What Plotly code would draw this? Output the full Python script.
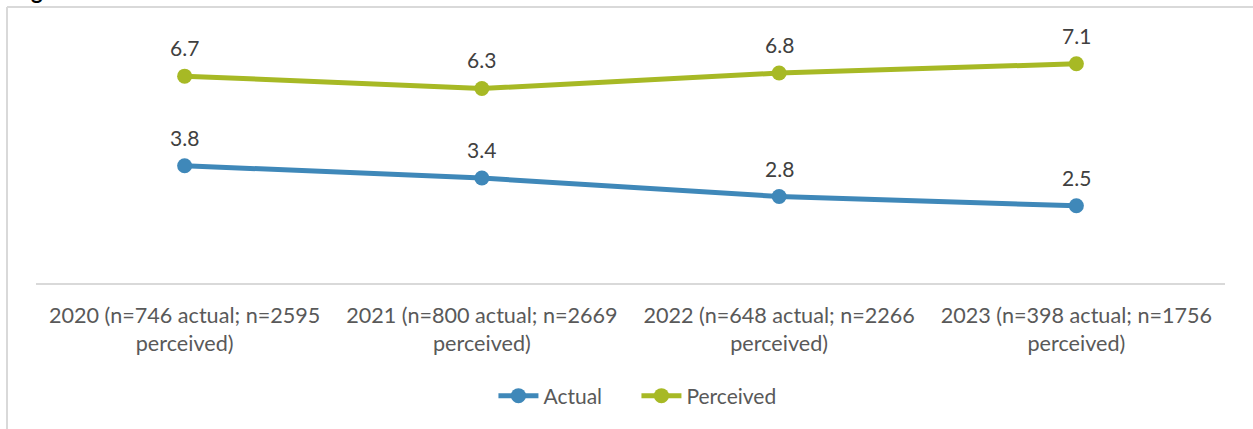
import plotly.graph_objects as go

categories = [
    "2020 (n=746 actual; n=2595<br>perceived)",
    "2021 (n=800 actual; n=2669<br>perceived)",
    "2022 (n=648 actual; n=2266<br>perceived)",
    "2023 (n=398 actual; n=1756<br>perceived)",
]
actual = [3.8, 3.4, 2.8, 2.5]
perceived = [6.7, 6.3, 6.8, 7.1]

BLUE = "#3F88B9"
GREEN = "#A7B925"
FONT = "Lato, Carlito, Calibri, sans-serif"

W, H = 1253, 429
L, R, T, B = 36, 28, 36, 146
pw, ph = W - L - R, H - T - B

def px_x(x):
    return (x - L) / pw

def px_y(y):
    return (H - B - y) / ph

fig = go.Figure()
for name, vals, col in [("Actual", actual, BLUE), ("Perceived", perceived, GREEN)]:
    fig.add_trace(go.Scatter(
        x=categories, y=vals, name=name, mode="lines+markers",
        line=dict(color=col, width=5),
        marker=dict(color=col, size=15),
    ))
    for c, v in zip(categories, vals):
        fig.add_annotation(
            x=c, y=v, text=f"{v:.1f}", showarrow=False,
            yanchor="bottom", yshift=14,
            font=dict(family=FONT, size=21, color="#404040"),
        )

# chart border (cropped)
border = dict(color="#D9D9D9", width=2)
fig.add_shape(type="line", xref="paper", yref="paper",
              x0=px_x(7), x1=px_x(1260), y0=px_y(7), y1=px_y(7), line=border)
fig.add_shape(type="line", xref="paper", yref="paper",
              x0=px_x(7), x1=px_x(7), y0=px_y(7), y1=px_y(440), line=border)
# cropped title letter
fig.add_annotation(xref="paper", yref="paper", x=px_x(37), y=px_y(6),
                   yanchor="bottom", xanchor="center", showarrow=False,
                   text="<b>g</b>", font=dict(family=FONT, size=22, color="#000000"))

fig.update_layout(
    width=W, height=H,
    margin=dict(l=L, r=R, t=T, b=B, autoexpand=False),
    paper_bgcolor="white", plot_bgcolor="white",
    font=dict(family=FONT, color="#595959"),
    xaxis=dict(
        range=[-0.5, len(categories) - 0.5],
        showgrid=False, showline=True, linecolor="#D9D9D9", linewidth=2,
        ticks="", tickfont=dict(family=FONT, size=21.6, color="#595959"),
        ticklabelstandoff=12,
        fixedrange=True, automargin=False,
    ),
    yaxis=dict(range=[0, 8], showgrid=False, showticklabels=False,
               zeroline=False, showline=False, fixedrange=True, automargin=False),
    showlegend=True,
    legend=dict(orientation="h", x=0.505, xanchor="center", y=px_y(396), yanchor="middle",
                font=dict(family=FONT, size=21, color="#595959"),
                entrywidth=88, itemwidth=40),
)
fig.write_html("out.html", config={"displayModeBar": False},
               post_script="document.body.style.margin='0';")
